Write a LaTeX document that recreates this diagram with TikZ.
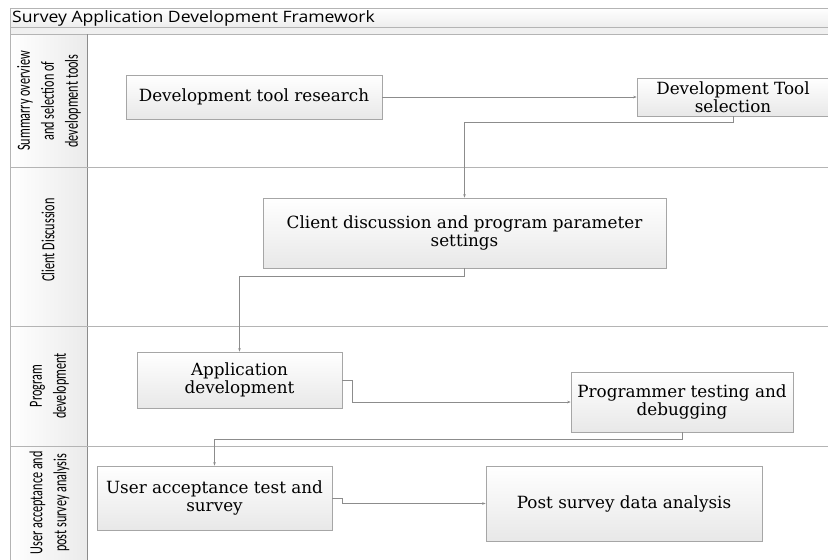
\documentclass[tikz,border=0pt]{standalone}
\usepackage{fontspec}
\setmainfont{DejaVu Serif}
\newfontfamily\lanefont[FakeStretch=0.66]{Carlito}
\newfontfamily\titlefont[FakeStretch=1.12]{Open Sans}
\newfontfamily\boxfont{DejaVu Serif}
\usetikzlibrary{arrows.meta}
\definecolor{frameline}{HTML}{B4B4B4}
\definecolor{connline}{HTML}{8C8C8C}
\definecolor{boxline}{HTML}{A6A6A6}
\tikzset{
  stepbox/.style={draw=boxline, line width=0.6pt, top color=white, bottom color=black!9,
    font=\boxfont\fontsize{16.8}{18}\selectfont, align=center, inner sep=0pt},
  conn/.style={draw=connline, line width=0.6pt, -{Stealth[length=3.5pt,width=2.5pt]}},
  lanelabel/.style={rotate=90, font=\lanefont\fontsize{18.5}{24}\selectfont, align=center, inner sep=0pt},
  frame/.style={draw=frameline, line width=0.8pt}
}
\begin{document}
\begin{tikzpicture}[x=1pt,y=-1pt]
\useasboundingbox (0,0) rectangle (828,560);
% title band and lane column backgrounds
\fill[top color=white, bottom color=black!7] (10,8) rectangle (830,27);
\fill[black!6] (10,27) rectangle (830,34);
\fill[left color=white, right color=black!8] (10,34) rectangle (87,562);
% frame lines
\draw[frame] (10,8) -- (830,8);
\draw[frame] (10,27) -- (830,27);
\draw[frame] (10,34) -- (830,34);
\draw[frame] (10,8) -- (10,562);
\draw[frame, draw=black!45] (87,34) -- (87,562);
\draw[frame] (10,167) -- (830,167);
\draw[frame] (10,326) -- (830,326);
\draw[frame] (10,446) -- (830,446);
% title
\node[anchor=west, inner sep=0pt, font=\titlefont\fontsize{15.7}{18}\selectfont] (title) at (12,18) {Survey Application Development Framework};
% lane labels
\node[lanelabel] (l1) at (49,101) {Summarry overview\\and selection of\\development tools};
\node[lanelabel] (l2) at (48,240) {Client Discussion};
\node[lanelabel] (l3) at (49.5,386) {Program\\development};
\node[lanelabel, anchor=east] (l4) at (49.5,451) {User acceptance and\\post survey analysis};
% boxes
\node[stepbox, minimum width=256pt, minimum height=44pt] (b1) at (254,97) {Development tool research};
\node[stepbox, minimum width=192pt, minimum height=38pt] (b2) at (733,97) {Development Tool\\selection};
\node[stepbox, minimum width=403pt, minimum height=70pt] (b3) at (464.5,233) {Client discussion and program parameter\\settings};
\node[stepbox, minimum width=205pt, minimum height=56pt] (b4) at (239.5,380) {Application\\development};
\node[stepbox, minimum width=222pt, minimum height=60pt] (b5) at (682,402) {Programmer testing and\\debugging};
\node[stepbox, minimum width=235pt, minimum height=64pt] (b6) at (214.5,498) {User acceptance test and\\survey};
\node[stepbox, minimum width=276pt, minimum height=75pt] (b7) at (624,503.5) {Post survey data analysis};
% connectors
\draw[conn] (b1.east) -- (b2.west);
\draw[conn] (b2.south) -- ++(0,6) -| (b3.north);
\draw[conn] (b3.south) -- ++(0,8) -| (b4.north);
\draw[conn] (b4.east) -- ++(10,0) |- (b5.west);
\draw[conn] (b5.south) -- ++(0,7) -| (b6.north);
\draw[conn] (b6.east) -- ++(10,0) |- (b7.west);
\end{tikzpicture}
\end{document}
